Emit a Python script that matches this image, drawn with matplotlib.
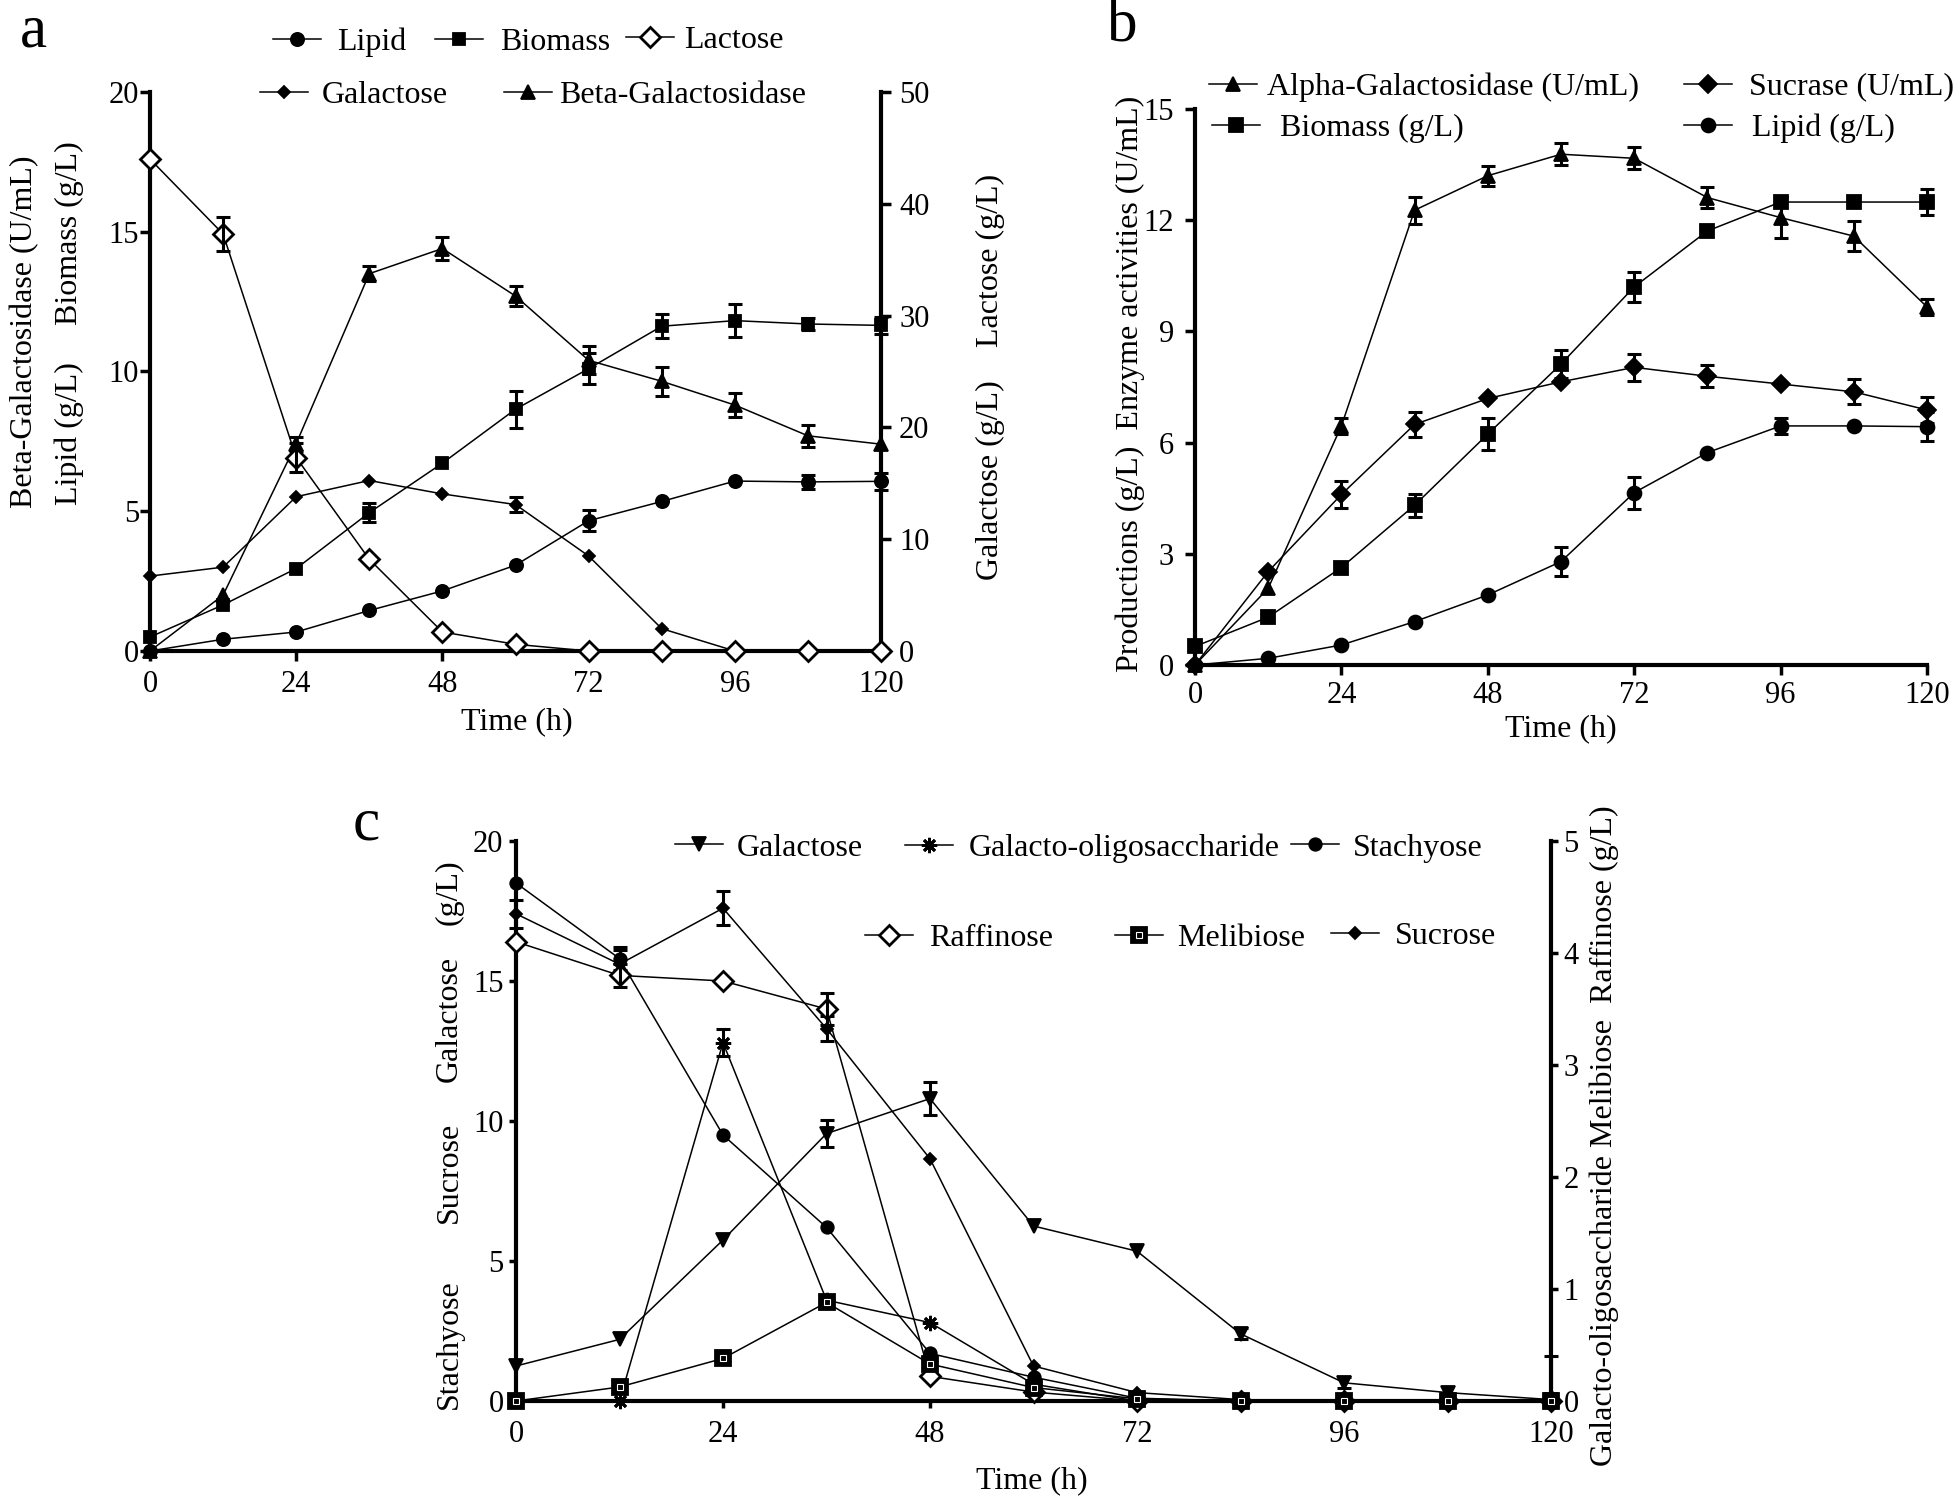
import numpy as np
import matplotlib
matplotlib.use('Agg')
import matplotlib.pyplot as plt
from matplotlib.lines import Line2D
from matplotlib.legend_handler import HandlerTuple

plt.rcParams['font.family'] = ['Liberation Serif', 'DejaVu Serif']

W, H = 1960, 1505

time_h = [0, 12, 24, 36, 48, 60, 72, 84, 96, 108, 120]
time_ticks = [0, 24, 48, 72, 96, 120]

# ---- panel a (left axis 0-20, right axis 0-50)
lipid_a = [0, 0.42, 0.68, 1.45, 2.15, 3.07, 4.66, 5.35, 6.08, 6.05, 6.07]
lipid_a_err = [0, 0, 0, 0, 0, 0, 0.38, 0, 0, 0.25, 0.3]
biomass_a = [0.5, 1.65, 2.95, 4.95, 6.72, 8.65, 10.1, 11.62, 11.82, 11.7, 11.65]
biomass_a_err = [0, 0, 0, 0.35, 0, 0.67, 0.55, 0.42, 0.6, 0.2, 0.3]
betagal_a = [0, 2.0, 7.42, 13.5, 14.4, 12.7, 10.4, 9.65, 8.8, 7.7, 7.4]
betagal_a_err = [0, 0, 0.25, 0.27, 0.4, 0.37, 0.5, 0.52, 0.43, 0.4, 0]
lactose_a = [44.0, 37.3, 17.3, 8.2, 1.7, 0.6, 0, 0, 0, 0, 0]
lactose_a_err = [0, 1.5, 1.3, 0, 0, 0, 0, 0, 0, 0, 0]
galactose_a = [6.7, 7.5, 13.8, 15.25, 14.05, 13.1, 8.5, 2.0, 0, 0, 0]
galactose_a_err = [0, 0, 0, 0, 0, 0.67, 0, 0, 0, 0, 0]

# ---- panel b
alpha_b = [0, 2.07, 6.45, 12.27, 13.2, 13.78, 13.67, 12.61, 12.07, 11.57, 9.66]
alpha_b_err = [0, 0, 0.22, 0.36, 0.27, 0.3, 0.3, 0.29, 0.55, 0.4, 0.22]
biomass_b = [0.5, 1.29, 2.63, 4.31, 6.23, 8.12, 10.2, 11.71, 12.49, 12.49, 12.49]
biomass_b_err = [0, 0, 0, 0.31, 0.43, 0.38, 0.4, 0, 0, 0, 0.35]
sucrase_b = [0, 2.52, 4.6, 6.49, 7.19, 7.64, 8.03, 7.79, 7.58, 7.37, 6.88]
sucrase_b_err = [0, 0, 0.36, 0.34, 0, 0, 0.36, 0.3, 0, 0.34, 0.34]
lipid_b = [0, 0.18, 0.54, 1.17, 1.89, 2.79, 4.65, 5.73, 6.45, 6.45, 6.43]
lipid_b_err = [0, 0, 0, 0, 0, 0.4, 0.43, 0, 0.22, 0, 0.4]

# ---- panel c (left axis 0-20, right axis 0-5)
galactose_c = [1.25, 2.2, 5.75, 9.55, 10.8, 6.25, 5.35, 2.4, 0.65, 0.3, 0.05]
galactose_c_err = [0, 0, 0, 0.48, 0.6, 0, 0, 0.2, 0.2, 0, 1.55]
stachyose_c = [18.5, 15.8, 9.5, 6.2, 1.7, 0.85, 0.1, 0, 0, 0, 0]
stachyose_c_err = [0, 0.4, 0, 0, 0, 0, 0, 0, 0, 0, 0]
sucrose_c = [17.4, 15.6, 17.6, 13.3, 8.65, 1.25, 0.3, 0.05, 0, 0, 0]
sucrose_c_err = [0.5, 0.5, 0.6, 0.45, 0, 0, 0, 0, 0, 0, 0]
raffinose_c = [4.1, 3.8, 3.75, 3.5, 0.22, 0.08, 0, 0, 0, 0, 0]
raffinose_c_err = [0, 0.1, 0, 0.14, 0, 0, 0, 0, 0, 0, 0]
melibiose_c = [0, 0.125, 0.38, 0.88, 0.33, 0.12, 0.02, 0, 0, 0, 0]
gos_c = [0, 0, 3.2, 0.9, 0.7, 0.15, 0, 0, 0, 0, 0]
gos_c_err = [0, 0, 0.12, 0, 0, 0, 0, 0, 0, 0, 0]

FS = 23
TFS = 22


def fx(px):
    return px / W


def fy(py):
    return 1 - py / H


def rect(left, right, top, bottom):
    return [fx(left), fy(bottom), (right - left) / W, (bottom - top) / H]


def series(ax, y, err, marker, ms, mfc='k', mew=1.3, z=3):
    y = np.asarray(y, float)
    ln, = ax.plot(time_h, y, '-', color='k', lw=1.1, marker=marker, ms=ms,
                  mfc=mfc, mec='k', mew=mew, zorder=z, clip_on=False)
    if err is not None:
        err = np.asarray(err, float)
        m = err > 0
        if m.any():
            x = np.asarray(time_h)[m]
            c = ax.errorbar(x, y[m], yerr=[np.minimum(err[m], y[m]), err[m]],
                            fmt='none', ecolor='k', elinewidth=2.2,
                            capsize=5, capthick=2.2, zorder=z)
            for art in c.get_children():
                art.set_clip_on(False)
    return ln


def style(ax, shown, length=7, lpad=4):
    for s in ax.spines:
        ax.spines[s].set_visible(s in shown)
        ax.spines[s].set_linewidth(3)
    ax.tick_params(direction='out', length=length, width=2.5, labelsize=TFS,
                   pad=lpad)


def entry(handle, label, mx, my, tx, fs=FS):
    fs_px = fs * 100 / 72
    hl = 1.5
    left = mx - hl * fs_px / 2
    pad = (tx - mx - hl * fs_px / 2) / fs_px
    fig.legend(handles=[handle], labels=[label], loc='center left',
               bbox_to_anchor=(fx(left), fy(my)), frameon=False, borderpad=0,
               borderaxespad=0, handlelength=hl, handletextpad=pad,
               fontsize=fs, handler_map={tuple: HandlerTuple(ndivide=1)})


def h(marker, ms, mfc='k', mew=1.3):
    return Line2D([], [], color='k', lw=1.1, marker=marker, ms=ms, mfc=mfc,
                  mec='k', mew=mew)


fig = plt.figure(figsize=(W / 100, H / 100), dpi=100)
fig.patch.set_facecolor('white')

# ================= panel a
axa = fig.add_axes(rect(150, 881, 92, 651))
axa2 = axa.twinx()
axa.set_xlim(0, 120)
axa.set_ylim(0, 20)
axa2.set_ylim(0, 50)
axa.set_xticks(time_ticks)
axa.set_yticks([0, 5, 10, 15, 20])
axa2.set_yticks([0, 10, 20, 30, 40, 50])
style(axa, ('left', 'bottom'), lpad=1)
axa.tick_params(axis='x', pad=7)
style(axa2, ('right',), lpad=6)

series(axa, lipid_a, lipid_a_err, 'o', 9.5)
series(axa, biomass_a, biomass_a_err, 's', 9)
series(axa, betagal_a, betagal_a_err, '^', 9.5)
series(axa2, galactose_a, galactose_a_err, 'D', 6)
series(axa2, lactose_a, lactose_a_err, 'D', 10, mfc='white', mew=2)

entry(h('o', 9.5), 'Lipid', 297, 42, 337)
entry(h('s', 9), 'Biomass', 459, 42, 500)
entry(h('D', 10, 'white', 2), 'Lactose', 650, 40, 684)
entry(h('D', 6), 'Galactose', 284, 95, 322)
entry(h('^', 9.5), 'Beta-Galactosidase', 528, 95, 559)

fig.text(fx(33), fy(32), 'a', fontsize=44, ha='center', va='center')
fig.text(fx(25), fy(332), 'Beta-Galactosidase (U/mL)', rotation=90,
         ha='center', va='center', fontsize=FS)
fig.text(fx(69), fy(434), 'Lipid (g/L)', rotation=90, ha='center',
         va='center', fontsize=FS)
fig.text(fx(69), fy(233), 'Biomass (g/L)', rotation=90, ha='center',
         va='center', fontsize=FS)
fig.text(fx(990), fy(480), 'Galactose (g/L)', rotation=90, ha='center',
         va='center', fontsize=FS)
fig.text(fx(990), fy(260), 'Lactose (g/L)', rotation=90, ha='center',
         va='center', fontsize=FS)
fig.text(fx(517), fy(722), 'Time (h)', ha='center', va='center', fontsize=FS)

# ================= panel b
axb = fig.add_axes(rect(1195, 1927, 109, 665))
axb.set_xlim(0, 120)
axb.set_ylim(0, 15)
axb.set_xticks(time_ticks)
axb.set_yticks([0, 3, 6, 9, 12, 15])
style(axb, ('left', 'bottom'), lpad=8)
axb.tick_params(axis='x', pad=4.5)

series(axb, lipid_b, lipid_b_err, 'o', 10)
series(axb, biomass_b, biomass_b_err, 's', 10)
series(axb, sucrase_b, sucrase_b_err, 'D', 9)
series(axb, alpha_b, alpha_b_err, '^', 10)

entry(h('^', 10), 'Alpha-Galactosidase (U/mL)', 1233, 87, 1267)
entry(h('s', 10), 'Biomass (g/L)', 1236, 128, 1280)
entry(h('D', 9), 'Sucrase (U/mL)', 1708, 87, 1749)
entry(h('o', 10), 'Lipid (g/L)', 1708, 128, 1752)

fig.text(fx(1122), fy(26), 'b', fontsize=44, ha='center', va='center')
fig.text(fx(1130), fy(384), 'Productions (g/L)  Enzyme activities (U/mL)',
         rotation=90, ha='center', va='center', fontsize=FS)
fig.text(fx(1561), fy(729), 'Time (h)', ha='center', va='center', fontsize=FS)

# ================= panel c
axc = fig.add_axes(rect(516, 1551, 841, 1401))
axc2 = axc.twinx()
axc.set_xlim(0, 120)
axc.set_ylim(0, 20)
axc2.set_ylim(0, 5)
axc.set_xticks(time_ticks)
axc.set_yticks([0, 5, 10, 15, 20])
axc2.set_yticks([0, 1, 2, 3, 4, 5])
style(axc, ('left', 'bottom'), length=5, lpad=4)
axc.tick_params(axis='x', pad=9)
style(axc2, ('right',), length=5, lpad=4)

series(axc, galactose_c, galactose_c_err, 'v', 10)
series(axc, stachyose_c, stachyose_c_err, 'o', 9)
series(axc, sucrose_c, sucrose_c_err, 'D', 6)
series(axc2, gos_c, gos_c_err, (8, 2, 0), 11, mew=2)
series(axc2, raffinose_c, raffinose_c_err, 'D', 10, mfc='white', mew=2)
series(axc2, melibiose_c, None, 's', 11)
# inner pattern of the melibiose squares
axc2.plot(time_h, melibiose_c, ls='none', marker='s', ms=4, mfc='none',
          mec='white', mew=0.8, zorder=4, clip_on=False)

meli_h = (h('s', 11), Line2D([], [], ls='none', marker='s', ms=4, mfc='none',
                              mec='white', mew=0.8))
entry(h('v', 10), 'Galactose', 699, 848, 737)
entry(h((8, 2, 0), 11, mew=2), 'Galacto-oligosaccharide', 929, 848, 969)
entry(h('o', 9), 'Stachyose', 1315, 848, 1353)
entry(h('D', 10, 'white', 2), 'Raffinose', 889, 938, 929)
entry(meli_h, 'Melibiose', 1139, 938, 1177)
entry(h('D', 6), 'Sucrose', 1355, 936, 1395)

fig.text(fx(366), fy(825), 'c', fontsize=44, ha='center', va='center')
for word, yc in [('Stachyose', 1344), ('Sucrose', 1172),
                 ('Galactose', 1019), ('(g/L)', 892)]:
    fig.text(fx(449), fy(yc), word, rotation=90, ha='center', va='center',
             fontsize=FS)
fig.text(fx(1604), fy(1136), 'Galacto-oligosaccharide Melibiose  Raffinose (g/L)',
         rotation=90, ha='center', va='center', fontsize=FS)
fig.text(fx(1032), fy(1481), 'Time (h)', ha='center', va='center', fontsize=FS)

fig.savefig('out.png', dpi=100, facecolor='white')
